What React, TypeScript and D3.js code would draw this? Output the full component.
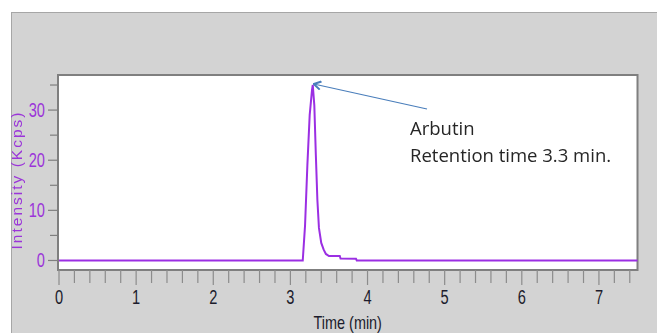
import React, { useRef, useEffect } from "react";
import * as d3 from "d3";

// chromatogram trace (time in min, intensity in Kcps)
const times = [0, 3.16, 3.19, 3.22, 3.25, 3.28, 3.29, 3.31, 3.33, 3.35, 3.37, 3.4, 3.43, 3.46, 3.5, 3.64, 3.65, 3.85, 3.86, 7.5];
const intensity = [0, 0, 7, 19, 29, 34, 35, 31, 21, 12, 6.5, 3.5, 2.2, 1.3, 0.9, 0.9, 0.4, 0.35, 0, 0];

const xTicks = [0, 1, 2, 3, 4, 5, 6, 7];
const yTicks = [0, 10, 20, 30];

const peakTime = 3.29;
const peakValue = 35;
const noteLines = ["Arbutin", "Retention time 3.3 min."];

const narrow = "'Liberation Sans', Arial, sans-serif";

const App = () => {
  const svgRef = useRef(null);

  useEffect(() => {
    const width = 657;
    const height = 333;
    const plot = { left: 58, top: 75, right: 637.5, bottom: 270 };

    const svg = d3.select(svgRef.current)
      .attr("width", width)
      .attr("height", height);
    svg.selectAll("*").remove();

    // grey panel
    svg.append("rect")
      .attr("x", 11.5).attr("y", 12.5)
      .attr("width", width).attr("height", height)
      .attr("fill", "#d3d3d3")
      .attr("stroke", "#a6a6a6")
      .attr("stroke-width", 1);

    const x = d3.scaleLinear().domain([0, 7.5]).range([plot.left + 1, plot.right]);
    const y = d3.scaleLinear().domain([-1.9, 37]).range([plot.bottom, plot.top]);

    // plot area
    svg.append("rect")
      .attr("x", plot.left).attr("y", plot.top)
      .attr("width", plot.right - plot.left).attr("height", plot.bottom - plot.top)
      .attr("fill", "#ffffff")
      .attr("stroke", "#7f7f7f")
      .attr("stroke-width", 2);

    // x axis ticks (minor every 0.2 min)
    const minor = d3.range(0, 7.5, 0.2).map((v) => Math.round(v * 10) / 10);
    svg.append("g").selectAll("line")
      .data(minor)
      .enter()
      .append("line")
      .attr("x1", (d) => x(d)).attr("x2", (d) => x(d))
      .attr("y1", plot.bottom)
      .attr("y2", (d) => (xTicks.includes(d) ? plot.bottom + 15 : plot.bottom + 13))
      .attr("stroke", "#8c8c8c")
      .attr("stroke-width", 1.2);

    svg.append("g").selectAll("text")
      .data(xTicks)
      .enter()
      .append("text")
      .attr("transform", (d) => "translate(" + x(d) + ",304) scale(0.75,1)")
      .attr("text-anchor", "middle")
      .attr("font-family", narrow)
      .attr("font-size", 19.5)
      .attr("fill", "#1c1c2c")
      .text((d) => d);

    svg.append("text")
      .attr("transform", "translate(" + (plot.left + plot.right) / 2 + ",329) scale(0.78,1)")
      .attr("text-anchor", "middle")
      .attr("font-family", narrow)
      .attr("font-size", 18.5)
      .attr("fill", "#1c1c2c")
      .text("Time (min)");

    // y axis ticks (minor every 5)
    const yMinor = d3.range(0, 40, 5);
    svg.append("g").selectAll("line")
      .data(yMinor)
      .enter()
      .append("line")
      .attr("x1", (d) => (yTicks.includes(d) ? plot.left - 10 : plot.left - 8))
      .attr("x2", plot.left)
      .attr("y1", (d) => y(d)).attr("y2", (d) => y(d))
      .attr("stroke", "#7f7f7f")
      .attr("stroke-width", 1.2);

    svg.append("g").selectAll("text")
      .data(yTicks)
      .enter()
      .append("text")
      .attr("transform", (d) => "translate(45," + (y(d) + 7) + ") scale(0.75,1)")
      .attr("text-anchor", "end")
      .attr("font-family", narrow)
      .attr("font-size", 19.5)
      .attr("fill", "#9b35d9")
      .text((d) => d);

    svg.append("text")
      .attr("transform", "translate(22,181) rotate(-90)")
      .attr("text-anchor", "middle")
      .attr("font-family", "'Liberation Sans', Arial, sans-serif")
      .attr("font-size", 15.5)
      .attr("fill", "#9b35d9")
      .attr("textLength", 137)
      .text("Intensity (Kcps)");

    // trace
    const line = d3.line()
      .x((d) => x(d[0]))
      .y((d) => y(d[1]));
    svg.append("path")
      .datum(times.map((t, i) => [t, intensity[i]]))
      .attr("d", line)
      .attr("fill", "none")
      .attr("stroke", "#9b2fe3")
      .attr("stroke-width", 2);

    // annotation arrow, from the note to the peak
    svg.append("defs").append("marker")
      .attr("id", "arrowhead")
      .attr("viewBox", "0 0 10 10")
      .attr("refX", 9).attr("refY", 5)
      .attr("markerWidth", 10).attr("markerHeight", 10)
      .attr("markerUnits", "userSpaceOnUse")
      .attr("orient", "auto")
      .append("path")
      .attr("d", "M2,0.8 L9,5 L2,9.2")
      .attr("fill", "none")
      .attr("stroke", "#4a7ebb")
      .attr("stroke-width", 2)
      .attr("stroke-linejoin", "miter");

    svg.append("line")
      .attr("x1", 427).attr("y1", 109)
      .attr("x2", x(peakTime) + 1).attr("y2", y(peakValue) - 1)
      .attr("stroke", "#4a7ebb")
      .attr("stroke-width", 1.2)
      .attr("marker-end", "url(#arrowhead)");

    svg.append("g").selectAll("text")
      .data(noteLines)
      .enter()
      .append("text")
      .attr("x", 410)
      .attr("y", (d, i) => 135 + i * 26.5)
      .attr("font-family", "'Open Sans', 'Noto Sans', sans-serif")
      .attr("font-size", 18.5)
      .style("font-variant-ligatures", "none")
      .attr("fill", "#262626")
      .text((d) => d);
  }, []);

  return (
    <div style={{ position: "fixed", left: 0, top: 0 }}>
      <svg ref={svgRef} style={{ display: "block" }} />
    </div>
  );
};

export default App;
